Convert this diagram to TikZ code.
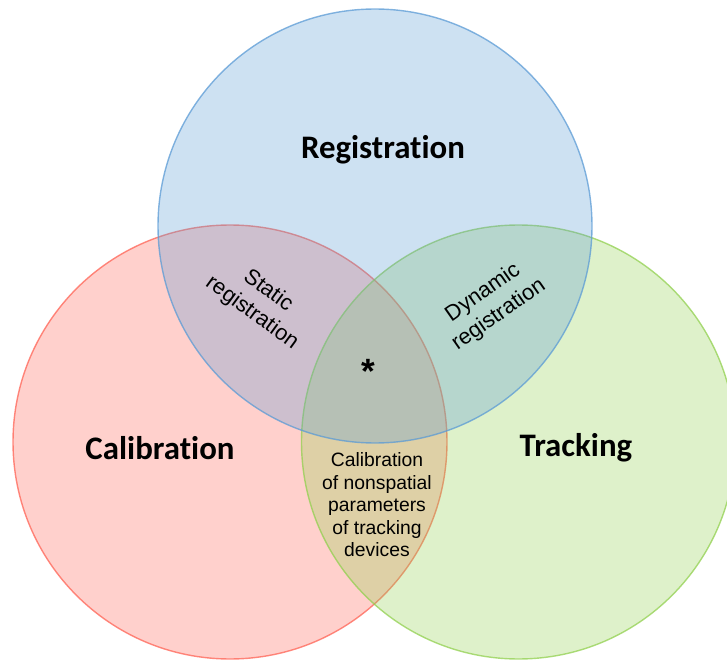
\documentclass[tikz,border=0pt]{standalone}
\usepackage{fontspec}
\setmainfont{Liberation Sans}
\newfontfamily\headfont[Ligatures=NoCommon]{Carlito}
\definecolor{regblue}{RGB}{91,155,213}
\definecolor{calred}{RGB}{255,99,85}
\definecolor{trkgreen}{RGB}{146,208,80}
\begin{document}
\begin{tikzpicture}
        \tikzstyle{setcircle} = [circle, minimum size=8.68cm, line width=0.8pt, fill opacity=0.3, draw opacity=0.75]
        \tikzstyle{setlabel} = [font=\headfont\bfseries\fontsize{18.7}{22}\selectfont]
        \tikzstyle{overlap} = [font=\fontsize{12.5}{15.5}\selectfont, align=center]
        
        \useasboundingbox (0,0) rectangle (14.54,13.18);
        
        % the three sets
        \node (cal) [setcircle, draw=calred, fill=calred] at (4.6,4.34) {};
        \node (trk) [setcircle, draw=trkgreen, fill=trkgreen] at (10.37,4.34) {};
        \node (reg) [setcircle, draw=regblue, fill=regblue] at (7.5,8.66) {};
        
        \node (reglabel) [setlabel] at (7.66,10.18) {Registration};
        \node (callabel) [setlabel] at (3.2,4.22) {Calibration};
        \node (trklabel) [setlabel] at (11.52,4.22) {Tracking};
        
        % overlaps
        \node (static) [overlap, rotate=-36] at (5.2,7.14) {Static\\registration};
        \node (dynamic) [overlap, rotate=35] at (9.82,7.1) {Dynamic\\registration};
        \node (nonspatial) [overlap, font=\fontsize{11}{12.8}\selectfont] at (7.54,3.08) {Calibration\\of nonspatial\\parameters\\of tracking\\devices};
        \node (centre) [font=\bfseries\fontsize{20}{22}\selectfont] at (7.36,5.76) {*};
\end{tikzpicture}
\end{document}
